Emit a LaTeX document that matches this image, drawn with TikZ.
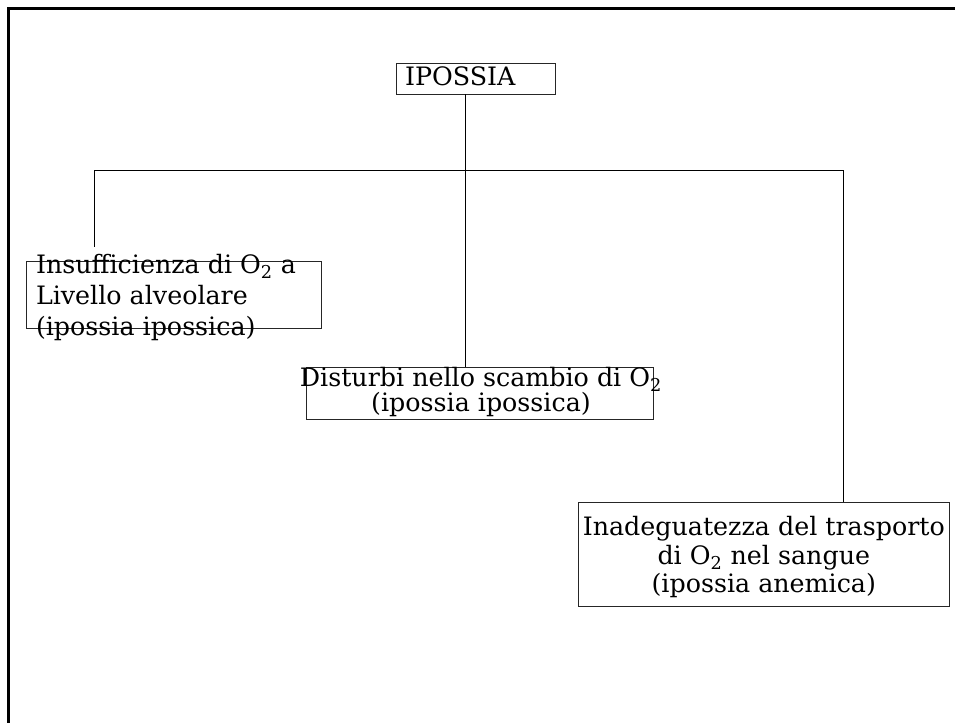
\documentclass[tikz,border=0pt]{standalone}
\usepackage{fontspec}
\setmainfont{DejaVu Serif}
\begin{document}
\begin{tikzpicture}[x=0.75pt,y=-0.75pt,
  slideframe/.style={line width=1.9pt},
  outline/.style={draw=black!85, line width=0.75pt, inner sep=0pt, outer sep=0pt},
  link/.style={draw=black, line width=0.75pt},
  label/.style={inner sep=0pt, outer sep=0pt, text=black}]
\useasboundingbox (0,0) rectangle (955,723);

% slide border (top and left edges)
\draw[slideframe] (955,8.5) -- (8.5,8.5) -- (8.5,723);

% outlines of the four boxes
\node[outline, minimum width=119.25pt, minimum height=23.25pt] (b0) at (476.2,78.8) {};
\node[outline, minimum width=221.8pt, minimum height=50pt] (b1) at (173.9,295) {};
\node[outline, minimum width=260.5pt, minimum height=39pt] (b2) at (479.7,393.3) {};
\node[outline, minimum width=278.25pt, minimum height=78.3pt] (b3) at (763.8,554.5) {};

% texts (anchored on the baseline of their last line)
\node[label, anchor=base west, font=\fontsize{19}{22}\selectfont] (t0) at (405,85.7) {IPOSSIA};
\node[label, anchor=base west, align=left, font=\fontsize{19}{23.25}\selectfont] (t1) at (36,335.7)
  {Insufficienza di O\textsubscript{2} a\\Livello alveolare\\(ipossia ipossica)};
\node[label, anchor=base, align=center, font=\fontsize{19}{18.75}\selectfont] (t2) at (481,411.7)
  {Disturbi nello scambio di O\textsubscript{2}\\(ipossia ipossica)};
\node[label, anchor=base, align=center, font=\fontsize{19}{21.5}\selectfont] (t3) at (763.8,592.7)
  {Inadeguatezza del trasporto\\di O\textsubscript{2} nel sangue\\(ipossia anemica)};

% branching connectors
\coordinate (hub) at (465.5,170.7);
\coordinate (jl) at (94.3,170.7);
\coordinate (jr) at (843.3,170.7);
\coordinate (e1) at (94.3,247);
\draw[link] (b0.south -| hub) -- (b2.north -| hub);
\draw[link] (e1) -- (jl) -- (jr) -- (b3.north -| jr);
\end{tikzpicture}
\end{document}
